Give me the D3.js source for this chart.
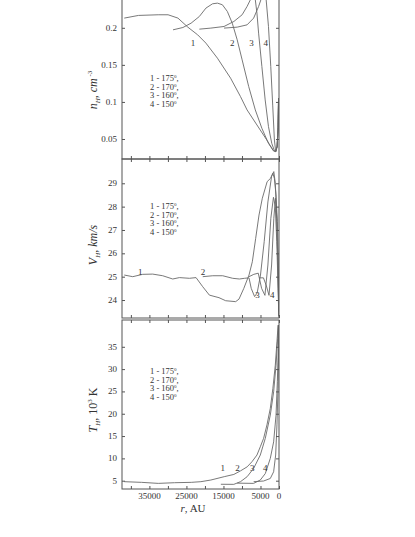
<!DOCTYPE html>
<html><head><meta charset="utf-8">
<script src="https://cdn.jsdelivr.net/npm/d3@7"></script>
<style>
html,body{margin:0;padding:0;background:#fff;}
svg{display:block;}
text{font-family:"Liberation Serif","Times New Roman",serif;fill:#333;}
</style></head>
<body>
<svg id="chart" width="415" height="537"></svg>
<script>
// ---------- DATA ----------
const xTicks = [40000,35000,30000,25000,20000,15000,10000,5000,0];
const xTickLabels = [35000,25000,15000,5000,0];
const legendLines = ["1 - 175","2 - 170","3 - 160","4 - 150"];

// Panel 1: n_H, cm^-3   [r (AU), value]
const nTicks = [0.05,0.1,0.15,0.2];
const n1 = [[41790,0.2131],[37955,0.2167],[32622,0.2176],[29955,0.2176],[27289,0.2131],[24622,0.2009],[21956,0.1905],[19733,0.1793],[16622,0.159],[13067,0.132],[10400,0.1072],[8622,0.0892],[5956,0.0689],[3289,0.0486],[1511,0.0342],[889,0.0329],[500,0.040],[250,0.065],[120,0.105]];
const n2 = [[28622,0.1973],[25955,0.2004],[23734,0.2063],[21511,0.2153],[19733,0.2266],[17955,0.2324],[16622,0.2333],[15289,0.2311],[13956,0.2221],[12622,0.2063],[11289,0.1838],[9955,0.1568],[8178,0.1207],[6400,0.0892],[4622,0.0644],[2844,0.0441],[1511,0.0342],[889,0.0329],[500,0.040],[250,0.065],[120,0.105]];
const n3 = [[21511,0.1982],[18400,0.1996],[14844,0.2018],[12178,0.2086],[9955,0.2176],[8622,0.2288],[7733,0.2378],[6900,0.246],[6400,0.2378],[5956,0.2198],[5511,0.1928],[4622,0.1477],[3733,0.1027],[2844,0.0667],[1956,0.0441],[1244,0.0342],[889,0.0329],[500,0.040],[250,0.065],[120,0.105]];
const n4 = [[14844,0.1996],[11289,0.2009],[8622,0.204],[6845,0.2131],[5511,0.2288],[4889,0.2378],[4267,0.25],[3467,0.2378],[2844,0.2018],[2222,0.1477],[1689,0.0946],[1244,0.0486],[889,0.0329],[500,0.040],[250,0.065],[120,0.105]];
const nLabels = [[23200,0.1793],[12600,0.1793],[7400,0.1793],[3600,0.1793]];

// Panel 2: V_H, km/s
const vTicks = [24,25,26,27,28,29];
const v1 = [[41790,25.07],[39500,25.0],[36800,25.1],[34100,25.11],[31400,25.04],[28700,24.9],[26900,24.96],[24200,24.93],[22400,24.96],[20600,24.57],[18800,24.21],[16200,24.1],[14400,23.97],[11700,23.93],[10800,24.04],[9500,24.5],[8100,25.07],[7200,25.64],[6300,26.64],[5400,27.64],[4500,28.36],[3200,29.07],[2300,29.21],[1650,29.43],[1250,29.21],[800,28.5],[450,27.36],[200,25.93],[30,23.6]];
const v2 = [[20600,25.0],[17900,25.04],[15200,25.04],[12500,24.93],[10700,24.9],[9300,24.93],[8100,24.95],[7500,24.5],[6600,24.15],[5900,24.3],[5000,25.07],[4000,26.5],[3000,28.2],[2000,29.3],[1400,29.5],[1000,29.0],[600,27.5],[250,25.0],[50,23.3]];
const v3 = [[8100,25.0],[6800,25.1],[5600,25.15],[4700,24.5],[3800,24.2],[3000,25.5],[2200,27.5],[1500,28.4],[1000,28.0],[600,26.5],[250,24.5],[50,23.3]];
const v4 = [[5400,24.95],[4200,24.95],[3400,24.6],[2700,24.2],[2000,25.5],[1400,27.5],[950,28.36],[600,27.5],[300,25.5],[50,23.5]];
const vLabels = [[37500,25.2],[20500,25.2],[5800,24.22],[1800,24.22]];

// Panel 3: T_H, 10^3 K
const tTicks = [5,10,15,20,25,30,35];
const t1 = [[41790,4.78],[37100,4.63],[32600,4.4],[28200,4.55],[23700,4.63],[21100,4.78],[18400,5.15],[14800,5.9],[12200,6.4],[10400,7.2],[8600,8.1],[7300,9.25],[5950,10.75],[5050,12.6],[4150,14.5],[3250,17.5],[2350,21.2],[1650,25.7],[1000,30.9],[550,36.1],[250,39.85]];
const t2 = [[15700,4.2],[12200,4.18],[10400,4.78],[8600,5.9],[6850,7.76],[5050,10.75],[3700,14.5],[2350,19.7],[1450,24.9],[800,30.9],[360,36.9],[180,39.85]];
const t3 = [[11300,4.45],[6850,4.4],[5050,5.15],[3700,6.6],[2350,10.0],[1450,13.7],[800,19.7],[450,27.2],[180,34.6],[90,39.85]];
const t4 = [[6850,4.78],[4150,4.93],[2350,5.5],[1450,7.0],[900,10.75],[550,17.5],[270,25.7],[90,34.6],[20,39.85]];
const tLabels = [[15200,7.9],[11200,7.9],[7200,7.9],[3700,7.9]];

// ---------- CHART ----------
const svg = d3.select("#chart");
const X0 = 122, X1 = 279;
const x = d3.scaleLinear().domain([42400, 0]).range([X0, X1]);

const panels = [
  {top:-30, bottom:159, domain:[0.023,0.278], ticks:nTicks, series:[n1,n2,n3,n4], labels:nLabels, legendY:81, titleY:90, title:"n"},
  {top:159, bottom:318, domain:[23.23,30.04], ticks:vTicks, series:[v1,v2,v3,v4], labels:vLabels, legendY:209, titleY:245, title:"V"},
  {top:320, bottom:489, domain:[3.14,41], ticks:tTicks, series:[t1,t2,t3,t4], labels:tLabels, legendY:374, titleY:410, title:"T"}
];

const frameColor = "#555", curveColor = "#6a6a6a";

panels.forEach((p, i) => {
  const y = d3.scaleLinear().domain(p.domain).range([p.bottom, p.top]);
  const g = svg.append("g");
  const clipId = "clip" + i;
  svg.append("clipPath").attr("id", clipId).append("rect")
    .attr("x", X0).attr("y", p.top).attr("width", X1 - X0).attr("height", p.bottom - p.top);

  const line = d3.line().x(d => x(d[0])).y(d => y(d[1])).curve(d3.curveLinear);
  g.append("g").attr("clip-path", `url(#${clipId})`)
    .selectAll("path").data(p.series).join("path")
    .attr("d", line).attr("fill", "none").attr("stroke", curveColor).attr("stroke-width", 0.9);

  g.append("rect").attr("x", X0).attr("y", p.top).attr("width", X1 - X0).attr("height", p.bottom - p.top)
    .attr("fill", "none").attr("stroke", frameColor).attr("stroke-width", 1);

  g.append("g").attr("transform", `translate(0,${p.bottom})`)
    .call(d3.axisTop(x).tickValues(xTicks).tickSize(3).tickFormat(""))
    .call(a => a.select(".domain").remove())
    .selectAll("line").attr("stroke", frameColor);
  g.append("g").attr("transform", `translate(0,${p.top})`)
    .call(d3.axisBottom(x).tickValues(xTicks).tickSize(3).tickFormat(""))
    .call(a => a.select(".domain").remove())
    .selectAll("line").attr("stroke", frameColor);
  const yl = g.append("g").attr("transform", `translate(${X0},0)`)
    .call(d3.axisRight(y).tickValues(p.ticks).tickSize(3).tickFormat(""));
  yl.select(".domain").remove();
  yl.selectAll("line").attr("stroke", frameColor);
  const yr = g.append("g").attr("transform", `translate(${X1},0)`)
    .call(d3.axisLeft(y).tickValues(p.ticks).tickSize(3).tickFormat(""));
  yr.select(".domain").remove();
  yr.selectAll("line").attr("stroke", frameColor);

  g.selectAll("text.yl").data(p.ticks).join("text").attr("class","yl")
    .attr("x", X0 - 5).attr("y", d => y(d) + 3).attr("text-anchor","end")
    .attr("font-size", 9).text(d => String(d));

  g.selectAll("text.cl").data(p.labels).join("text").attr("class","cl")
    .attr("x", d => x(d[0])).attr("y", d => y(d[1]) + 3).attr("text-anchor","middle")
    .attr("font-size", 9).text((d, k) => k + 1);

  const lg = g.append("g");
  legendLines.forEach((s, k) => {
    const t = lg.append("text").attr("x", 150).attr("y", p.legendY + k * 8.7).attr("font-size", 8.5);
    t.append("tspan").text(s);
    t.append("tspan").attr("font-size", 5).attr("dy", -3).text("0");
    t.append("tspan").attr("dy", 3).text(k < 3 ? "," : "");
  });

  const tt = g.append("text").attr("transform", `translate(97,${p.titleY}) rotate(-90)`)
    .attr("text-anchor","middle").attr("font-size", 12);
  if (p.title === "n") {
    tt.append("tspan").attr("font-style","italic").text("n");
    tt.append("tspan").attr("font-style","italic").attr("font-size",7).attr("dy",3).text("H");
    tt.append("tspan").attr("font-style","italic").attr("dy",-3).text(", cm");
    tt.append("tspan").attr("font-size",7).attr("dy",-5).text(" -3");
  } else if (p.title === "V") {
    tt.append("tspan").attr("font-style","italic").text("V");
    tt.append("tspan").attr("font-style","italic").attr("font-size",7).attr("dy",3).text("H");
    tt.append("tspan").attr("font-style","italic").attr("dy",-3).text(", km/s");
  } else {
    tt.append("tspan").attr("font-style","italic").text("T");
    tt.append("tspan").attr("font-style","italic").attr("font-size",7).attr("dy",3).text("H");
    tt.append("tspan").attr("dy",-3).text(",  10");
    tt.append("tspan").attr("font-size",7).attr("dy",-5).text("3");
    tt.append("tspan").attr("dy",5).text(" K");
  }
});

svg.selectAll("text.xl").data(xTickLabels).join("text").attr("class","xl")
  .attr("x", d => x(d)).attr("y", 499).attr("text-anchor","middle").attr("font-size", 9).text(d => d);

const xt = svg.append("text").attr("x", 193).attr("y", 512).attr("text-anchor","middle").attr("font-size", 11);
xt.append("tspan").attr("font-style","italic").text("r");
xt.append("tspan").text(",  AU");
</script>
</body></html>
